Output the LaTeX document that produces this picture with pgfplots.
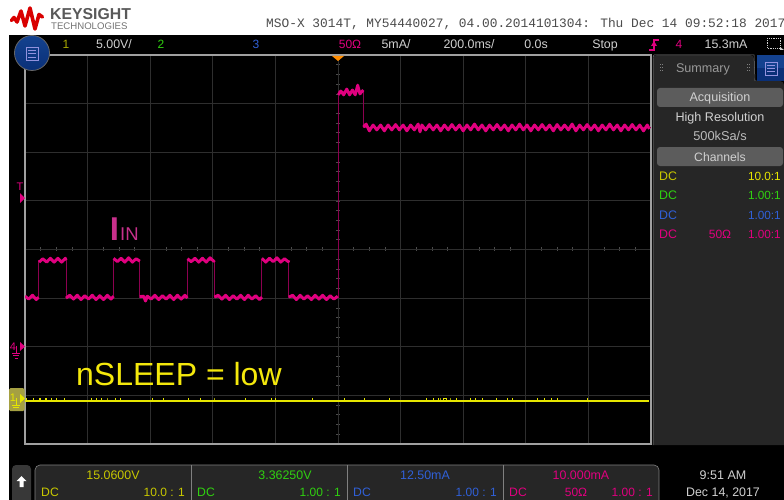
\documentclass[border=0pt]{standalone}
\usepackage{fontspec}
\setmainfont{Liberation Sans}
\newfontfamily\monof{Liberation Mono}
\usepackage{pgfplots}
\pgfplotsset{compat=1.18}
\definecolor{cy}{HTML}{E6E600}
\definecolor{cyd}{HTML}{C8C800}
\definecolor{cg}{HTML}{30D010}
\definecolor{cb}{HTML}{3060D8}
\definecolor{cp}{HTML}{E0007F}
\definecolor{cpd}{HTML}{8C0050}
\definecolor{cin}{HTML}{C8308C}
\definecolor{cw}{HTML}{D0D0D0}
\definecolor{gridc}{HTML}{2E2E2E}
\definecolor{panel}{HTML}{262626}
\definecolor{btn}{HTML}{5C5C5C}
\definecolor{edge}{HTML}{A0A0A0}
\definecolor{bluea}{HTML}{14428F}
\definecolor{blueb}{HTML}{0A3078}
\tikzset{st/.style={inner sep=0pt,font=\fontsize{#1}{#1}\selectfont}}
\begin{document}
\begin{tikzpicture}[x=1pt,y=1pt]
\clip (0,0) rectangle (784,-500);
\fill[white] (0,0) rectangle (784,-500);
\fill[black] (9,-35) rectangle (784,-500);
% logo
\draw[line width=3.6pt,color=red!85!black,line join=round,line cap=round] (11.5,-20.5)--(14,-17.5)--(17,-22)--(21,-11)--(25,-26)--(30,-8)--(35,-29)--(39,-14.5)--(42.5,-17);
\node[st=15.8,text=black!65,anchor=base west,font=\fontsize{15.8}{15.8}\selectfont\bfseries] at (50,-19.5) {KEYSIGHT};
\node[st=9.6,text=black!55,anchor=base west] at (51,-29.3) {TECHNOLOGIES};
\node[st=12.85,text=black!70,anchor=base west,font=\fontsize{12.85}{12.85}\selectfont\monof] at (266,-28) {MSO-X 3014T, MY54440027, 04.00.2014101304: Thu Dec 14 09:52:18 2017};
% top bar
\node[st=12,text=cyd!85!black,anchor=base] at (66,-49) {1};
\node[st=12.4,text=cw,anchor=base] at (114,-49) {5.00V/};
\node[st=12,text=cg,anchor=base] at (161,-49) {2};
\node[st=12,text=cb,anchor=base] at (256,-49) {3};
\node[st=12,text=cp,anchor=base] at (350,-49) {50Ω};
\node[st=12.4,text=cw,anchor=base] at (396,-49) {5mA/};
\node[st=12.4,text=cw,anchor=base] at (469,-49) {200.0ms/};
\node[st=12.4,text=cw,anchor=base] at (536,-49) {0.0s};
\node[st=12.4,text=cw,anchor=base] at (605,-49) {Stop};
\draw[cp,line width=1.2pt] (649,-50)--(654,-50)--(654,-40)--(659,-40);
\fill[cp] (651,-46)--(654,-41)--(657,-46)--cycle;
\node[st=12,text=cp,anchor=base] at (679,-49) {4};
\node[st=12.4,text=cw,anchor=base] at (726,-49) {15.3mA};
\draw[cw,densely dotted,line width=.8pt] (767,-38) rectangle (780,-48);
\fill[cw] (780,-47)--(784,-50)--(780,-50)--cycle;
% right panel
\fill[panel] (653,-445) -- (653,-60) [rounded corners=4pt] -- (653,-55) -- (754,-55) -- (754,-81) -- (784,-81) [sharp corners] -- (784,-445) -- cycle;
\draw[black!50!white,line width=.5pt] (653,-445)--(653,-57)--(654,-55)--(754,-55)--(755,-81);
\fill[bluea] (757,-55) rectangle (784,-68);
\fill[blueb] (757,-68) rectangle (784,-81);
\draw[cw!70!blue,line width=.7pt] (765,-62) rectangle (777,-75);
\draw[cw!70!blue,line width=.6pt] (767,-65)--(775,-65) (767,-68)--(775,-68) (767,-71)--(775,-71);
\node[st=12.6,text=black!40!white,anchor=base] at (703,-73) {Summary};
\foreach \p in {660,662} \foreach \q in {65,68,71} \fill[black!50!white] (\p-.5,-\q-.5) rectangle (\p+.5,-\q+.5);
\foreach \p in {747,749} \foreach \q in {65,68,71} \fill[black!50!white] (\p-.5,-\q-.5) rectangle (\p+.5,-\q+.5);
\fill[btn,rounded corners=3pt] (657,-88) rectangle (783,-107);
\node[st=12.6,text=cw,anchor=base] at (720,-102) {Acquisition};
\node[st=12.6,text=cw,anchor=base] at (720,-122) {High Resolution};
\node[st=12.8,text=cw!90!black,anchor=base] at (720,-141) {500kSa/s};
\fill[btn,rounded corners=3pt] (657,-147) rectangle (783,-166);
\node[st=12.2,text=cw,anchor=base] at (720,-161) {Channels};
\node[st=12.4,text=cyd,anchor=base west] at (659,-180) {DC};
\node[st=11.8,text=cy,anchor=base east] at (781,-180) {10.0:1};
\node[st=12.4,text=cg,anchor=base west] at (659,-199) {DC};
\node[st=11.8,text=cg,anchor=base east] at (781,-199) {1.00:1};
\node[st=12.4,text=cb,anchor=base west] at (659,-219) {DC};
\node[st=11.8,text=cb,anchor=base east] at (781,-219) {1.00:1};
\node[st=12.4,text=cp,anchor=base west] at (659,-238) {DC};
\node[st=12,text=cp,anchor=base] at (720,-238) {50Ω};
\node[st=11.8,text=cp,anchor=base east] at (781,-238) {1.00:1};
% bottom bar
\fill[panel,rounded corners=5pt] (35,-465) rectangle (659,-520);
\draw[black!50!white,line width=.6pt,rounded corners=5pt] (35,-510)--(35,-465)--(659,-465)--(659,-510);
\draw[black!50!white,line width=.8pt] (191,-465)--(191,-500) (347,-465)--(347,-500) (503,-465)--(503,-500);
\fill[black!78!white,rounded corners=4pt] (12,-465) rectangle (31,-520);
\fill[white] (21.5,-476)--(26.5,-481)--(23.5,-481)--(23.5,-487)--(19.5,-487)--(19.5,-481)--(16.5,-481)--cycle;
\node[st=12.4,text=cyd,anchor=base] at (113,-479) {15.0600V};
\node[st=12.2,text=cyd,anchor=base west] at (41,-496) {DC};
\node[st=12,text=cyd,anchor=base east] at (185,-496) {10.0 : 1};
\node[st=12.4,text=cg,anchor=base] at (285,-479) {3.36250V};
\node[st=12.2,text=cg,anchor=base west] at (197,-496) {DC};
\node[st=12,text=cg,anchor=base east] at (341,-496) {1.00 : 1};
\node[st=12.4,text=cb,anchor=base] at (425,-479) {12.50mA};
\node[st=12.2,text=cb,anchor=base west] at (353,-496) {DC};
\node[st=12,text=cb,anchor=base east] at (497,-496) {1.00 : 1};
\node[st=12.4,text=cp,anchor=base] at (581,-479) {10.000mA};
\node[st=12.2,text=cp,anchor=base west] at (509,-496) {DC};
\node[st=12,text=cp,anchor=base] at (576,-496) {50Ω};
\node[st=12,text=cp,anchor=base east] at (653,-496) {1.00 : 1};
\node[st=12.5,text=cw,anchor=base] at (723,-479) {9:51 AM};
\node[st=12.4,text=cw,anchor=base] at (723,-496) {Dec 14, 2017};
% centre graticule ticks
\foreach \k in {1,...,39} \draw[black!70!white,line width=.7pt] (25+15.65*\k,-247.4)--(25+15.65*\k,-251.4);
\foreach \k in {1,...,39} \draw[black!70!white,line width=.7pt] (336,-55-9.725*\k)--(340,-55-9.725*\k);
% current channel + graticule
\begin{axis}[name=main,at={(25pt,-444pt)},anchor=south west,width=626pt,height=389pt,scale only axis,
 xmin=-1000,xmax=1000,ymin=-10,ymax=30,
 xtick={-1000,-800,...,1000},ytick={-10,-5,...,30},
 xticklabels={},yticklabels={},major tick length=0pt,
 grid=major,grid style={gridc,line width=1pt},
 axis line style={edge,line width=1.3pt},unbounded coords=jump]
\addplot[cpd,line width=1pt] coordinates {(-1000,5.1)(-957,5.1)(-957,8.9)(-869,8.9)(-869,5.1)(-717,5.1)(-717,8.9)(-633,8.9)(-633,5.1)(-481,5.1)(-481,8.9)(-395,8.9)(-395,5.1)(-243,5.1)(-243,8.9)(-157,8.9)(-157,5.1)(0,5.1)(0,26.2)(81,26.2)(81,22.5)(1000,22.5)};
\addplot[cp,line width=2.9pt,line join=round] coordinates {
(-1000,5.2)(-988,4.9)(-976,5.3)(-964,4.85)(-957,5.1)(-957,nan)
(-955,8.7)(-943,9.05)(-931,8.7)(-919,9.1)(-907,8.7)(-895,9.1)(-883,8.7)(-871,9.1)(-869,8.9)(-869,nan)
(-869,5.0)(-857,5.3)(-845,4.9)(-833,5.3)(-821,4.85)(-809,5.25)(-797,4.9)(-785,5.3)(-773,4.85)(-761,5.25)(-749,4.85)(-737,5.3)(-725,4.9)(-717,5.2)(-717,nan)
(-717,9.1)(-705,8.75)(-693,9.1)(-681,8.7)(-669,9.15)(-657,8.7)(-645,9.05)(-633,8.8)(-633,nan)
(-633,5.15)(-621,5.2)(-615,4.7)(-609,5.2)(-597,4.9)(-585,5.3)(-573,4.85)(-561,5.25)(-549,4.9)(-537,5.3)(-525,4.85)(-513,5.3)(-501,4.9)(-489,5.3)(-481,5.0)(-481,nan)
(-481,9.05)(-469,8.75)(-457,9.1)(-445,8.7)(-433,9.1)(-421,8.7)(-409,9.15)(-397,8.8)(-395,8.9)(-395,nan)
(-395,5.1)(-383,5.3)(-371,4.9)(-359,5.3)(-347,4.85)(-335,5.25)(-323,4.9)(-311,5.3)(-299,4.85)(-287,5.3)(-275,4.9)(-263,5.25)(-251,4.85)(-243,5.1)(-243,nan)
(-243,9.1)(-231,8.7)(-219,9.1)(-207,8.75)(-195,9.15)(-183,8.7)(-171,9.05)(-159,8.75)(-157,8.9)(-157,nan)
(-157,5.1)(-145,5.3)(-133,4.85)(-121,5.3)(-109,4.9)(-97,5.25)(-85,4.85)(-73,5.3)(-61,4.9)(-49,5.3)(-37,4.85)(-25,5.25)(-13,4.9)(-1,5.2)(-1,nan)
(1,25.9)(9,26.3)(18,25.9)(28,26.5)(37,25.9)(46,26.4)(55,25.9)(63,26.9)(70,26.0)(81,26.4)(81,nan)
(81,22.6)(90,22.9)(100,22.2)(112,22.8)(124,22.3)(136,22.8)(148,22.2)(160,22.8)(172,22.3)(184,22.85)(196,22.3)(208,22.8)(220,22.2)(232,22.8)(244,22.3)(256,22.9)(262,22.1)(268,22.8)(280,22.3)(292,22.85)(304,22.3)(316,22.8)(328,22.2)(340,22.8)(352,22.3)(364,22.85)(376,22.3)(388,22.8)(400,22.2)(412,22.8)(424,22.3)(436,22.9)(448,22.3)(460,22.8)(472,22.2)(484,22.8)(496,22.3)(508,22.85)(520,22.3)(532,22.8)(544,22.2)(556,22.8)(568,22.3)(580,22.9)(592,22.3)(604,22.8)(616,22.2)(628,22.8)(640,22.3)(652,22.85)(664,22.3)(676,22.8)(688,22.2)(700,22.85)(712,22.3)(724,22.8)(736,22.3)(748,22.9)(760,22.2)(772,22.8)(784,22.3)(796,22.85)(808,22.3)(820,22.8)(832,22.2)(844,22.8)(856,22.3)(868,22.9)(880,22.3)(892,22.8)(904,22.2)(916,22.8)(928,22.3)(940,22.85)(952,22.3)(964,22.8)(976,22.2)(988,22.8)(995,22.4)};
\end{axis}
% voltage channel
\begin{axis}[at={(25pt,-444pt)},anchor=south west,width=626pt,height=389pt,scale only axis,
 xmin=-1000,xmax=1000,ymin=-4.94,ymax=35.06,hide axis]
\addplot[cy,line width=1pt] coordinates {
(-994,-.53)(-994,-.23)(-994,-.53)(-974,-.53)(-974,-.23)(-974,-.53)(-955,-.53)(-955,-.23)(-949,-.23)(-949,-.53)(-936,-.53)(-936,-.23)(-930,-.23)(-930,-.53)(-914,-.53)(-914,-.23)(-914,-.53)(-898,-.53)(-898,-.23)(-898,-.53)(-875,-.53)(-875,-.23)(-875,-.53)
(-789,-.53)(-789,-.23)(-789,-.53)(-773,-.53)(-773,-.23)(-773,-.53)(-757,-.53)(-757,-.23)(-757,-.53)(-738,-.53)(-738,-.23)(-738,-.53)(-712,-.53)(-712,-.23)(-712,-.53)(-696,-.53)(-696,-.23)(-696,-.53)(-594,-.53)(-594,-.23)(-594,-.53)(-559,-.53)(-559,-.23)(-559,-.53)(-479,-.53)(-479,-.23)(-479,-.53)
(-438,-.53)(-438,-.23)(-438,-.53)(-393,-.53)(-393,-.23)(-393,-.53)(-297,-.53)(-297,-.23)(-297,-.53)(-214,-.53)(-214,-.23)(-214,-.53)(-201,-.53)(-201,-.23)(-201,-.53)(-80,-.53)(-80,-.23)(-80,-.53)(22,-.53)(22,-.23)(22,-.53)(86,-.53)(86,-.23)(86,-.53)(163,-.53)(163,-.23)(163,-.53)
(284,-.53)(284,-.23)(284,-.53)(304,-.53)(304,-.23)(304,-.53)(320,-.53)(320,-.23)(320,-.53)(329,-.53)(329,-.23)(329,-.53)(337,-.53)(337,-.23)(347,-.23)(347,-.53)(361,-.53)(361,-.23)(361,-.53)(380,-.53)(380,-.23)(380,-.53)(422,-.53)(422,-.23)(422,-.53)(438,-.53)(438,-.23)(438,-.53)(463,-.53)(463,-.23)(463,-.53)(505,-.53)(505,-.23)(505,-.53)(540,-.53)(540,-.23)(540,-.53)(559,-.53)(559,-.23)(559,-.53)(636,-.53)(636,-.23)(636,-.53)(661,-.53)(661,-.23)(661,-.53)(681,-.53)(681,-.23)(681,-.53)(700,-.53)(700,-.23)(700,-.53)(796,-.53)(796,-.23)(796,-.53)};
\addplot[cy,line width=2.4pt] coordinates {(-1000,-.53)(995,-.53)};
\end{axis}
% top-of-axis decorations
\fill[orange!90!yellow] (332,-56)--(344,-56)--(338,-61)--cycle;
\shade[top color=bluea,bottom color=blueb,draw=black!60!white,line width=.8pt] (32,-53) circle (17.5);
\draw[cw!70!blue,line width=.7pt] (26,-47) rectangle (38,-60);
\draw[cw!70!blue,line width=.6pt] (28,-50)--(36,-50) (28,-53.5)--(36,-53.5) (28,-57)--(36,-57);
% markers
\node[st=11,text=cp,anchor=base] at (20,-190) {T};
\fill[cp] (20,-193)--(25,-198)--(20,-203)--cycle;
\node[st=11,text=cp,anchor=base] at (13,-350) {4};
\fill[cp] (20,-342)--(25,-346.5)--(20,-351)--cycle;
\draw[cp,line width=.8pt] (16,-346)--(16,-353) (12,-353)--(20,-353) (13,-355.5)--(19,-355.5) (14.5,-358)--(17.5,-358);
\fill[yellow!60!black,rounded corners=1.5pt] (9,-388) rectangle (24.5,-411);
\node[st=11,text=cy,anchor=base] at (13,-401) {1};
\fill[cy] (20,-394)--(25,-398.5)--(20,-403)--cycle;
\draw[cy,line width=.8pt] (16,-398)--(16,-405) (12,-405)--(20,-405) (13,-407.5)--(19,-407.5);
% annotations
\node[st=33,text=cin,anchor=base,font=\fontsize{33}{33}\selectfont\bfseries] at (114.5,-240) {I};
\node[st=18.5,text=cin,anchor=base west] at (120,-240) {IN};
\node[st=32,text=yellow!95!black,anchor=base west] at (76,-385) {nSLEEP = low};
\end{tikzpicture}
\end{document}
